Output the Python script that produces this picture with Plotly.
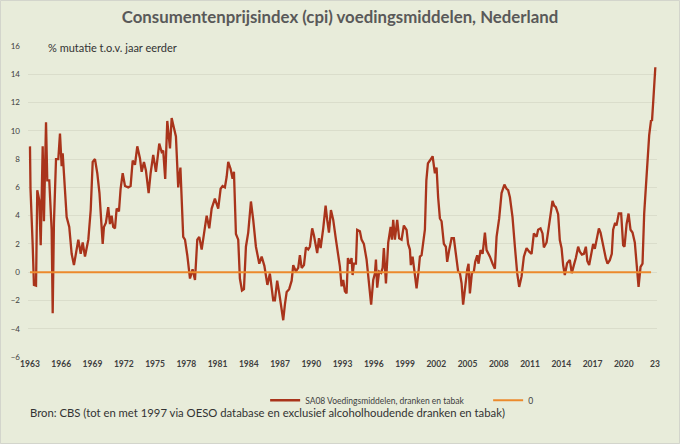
import plotly.graph_objects as go

# ---- data ----
years = [
    1963.00, 1963.05, 1963.26, 1963.38, 1963.58, 1963.70, 1963.89, 1964.03, 1964.22, 1964.34,
    1964.54, 1964.66, 1964.85, 1965.08, 1965.18, 1965.30, 1965.50, 1965.72, 1965.88, 1966.04,
    1966.14, 1966.36, 1966.52, 1966.77, 1967.00, 1967.22, 1967.64, 1967.87, 1968.06, 1968.28,
    1968.60, 1968.83, 1969.02, 1969.24, 1969.46, 1969.67, 1969.98, 1970.10, 1970.29, 1970.51,
    1970.68, 1970.84, 1970.99, 1971.16, 1971.32, 1971.54, 1971.70, 1971.90, 1972.12, 1972.43,
    1972.66, 1972.86, 1973.08, 1973.30, 1973.56, 1973.72, 1973.94, 1974.13, 1974.39, 1974.58,
    1974.83, 1975.09, 1975.41, 1975.64, 1975.79, 1975.98, 1976.18, 1976.44, 1976.60, 1976.82,
    1977.01, 1977.23, 1977.44, 1977.71, 1977.88, 1978.10, 1978.36, 1978.61, 1978.84, 1979.06,
    1979.25, 1979.48, 1979.70, 1979.96, 1980.21, 1980.44, 1980.75, 1981.07, 1981.30, 1981.49,
    1981.71, 1981.88, 1982.03, 1982.26, 1982.45, 1982.58, 1982.77, 1982.99, 1983.15, 1983.35,
    1983.54, 1983.73, 1983.95, 1984.21, 1984.43, 1984.69, 1985.01, 1985.24, 1985.50, 1985.79,
    1986.03, 1986.35, 1986.51, 1986.73, 1986.93, 1987.16, 1987.31, 1987.47, 1987.64, 1987.88,
    1988.12, 1988.27, 1988.53, 1988.75, 1988.91, 1989.08, 1989.30, 1989.49, 1989.71, 1989.87,
    1990.09, 1990.26, 1990.45, 1990.57, 1990.74, 1990.90, 1991.15, 1991.38, 1991.53, 1991.70,
    1991.89, 1992.11, 1992.37, 1992.59, 1992.75, 1992.91, 1993.07, 1993.23, 1993.39, 1993.52,
    1993.71, 1993.87, 1993.97, 1994.09, 1994.29, 1994.41, 1994.67, 1994.83, 1995.05, 1995.31,
    1995.56, 1995.75, 1995.95, 1996.11, 1996.21, 1996.33, 1996.52, 1996.71, 1996.85, 1996.97,
    1997.17, 1997.39, 1997.62, 1997.74, 1997.87, 1998.03, 1998.25, 1998.44, 1998.67, 1998.89,
    1999.15, 1999.30, 1999.47, 1999.56, 1999.73, 1999.95, 2000.11, 2000.30, 2000.43, 2000.59,
    2000.75, 2000.91, 2001.05, 2001.20, 2001.39, 2001.48, 2001.65, 2001.87, 2002.03, 2002.18,
    2002.35, 2002.51, 2002.73, 2002.92, 2003.05, 2003.24, 2003.47, 2003.69, 2003.88, 2004.10,
    2004.27, 2004.43, 2004.58, 2004.78, 2004.97, 2005.10, 2005.23, 2005.42, 2005.61, 2005.74,
    2005.93, 2006.06, 2006.25, 2006.45, 2006.67, 2006.83, 2007.15, 2007.41, 2007.63, 2007.79,
    2008.04, 2008.27, 2008.42, 2008.54, 2008.75, 2008.90, 2009.07, 2009.32, 2009.55, 2009.77,
    2009.96, 2010.19, 2010.41, 2010.67, 2010.92, 2011.15, 2011.37, 2011.63, 2011.78, 2012.01,
    2012.20, 2012.33, 2012.59, 2012.84, 2012.97, 2013.16, 2013.32, 2013.48, 2013.70, 2013.86,
    2014.03, 2014.18, 2014.34, 2014.56, 2014.82, 2015.01, 2015.21, 2015.40, 2015.62, 2015.78,
    2015.98, 2016.17, 2016.36, 2016.50, 2016.68, 2016.91, 2017.06, 2017.22, 2017.39, 2017.61,
    2017.77, 2017.96, 2018.09, 2018.28, 2018.44, 2018.66, 2018.85, 2018.98, 2019.17, 2019.30,
    2019.52, 2019.75, 2019.94, 2020.07, 2020.27, 2020.46, 2020.65, 2020.84, 2021.06, 2021.22,
    2021.42, 2021.61, 2021.80, 2021.96, 2022.12, 2022.28, 2022.44, 2022.62, 2022.71, 2022.84,
    2023.03,
]
cpi_food = [
    8.9, 5.9, 1.9, -0.9, -0.95, 5.8, 5.1, 1.9, 8.9, 3.6,
    10.6, 6.5, 6.5, 3.0, -2.9, 3.5, 8.0, 8.0, 9.8, 7.5,
    8.4, 6.0, 3.9, 3.2, 1.3, 0.5, 2.3, 1.3, 2.1, 1.1,
    2.3, 4.4, 7.8, 8.0, 7.0, 5.6, 2.0, 3.2, 3.5, 4.6,
    3.4, 4.0, 3.2, 3.1, 4.5, 4.3, 5.9, 7.0, 6.1, 6.0,
    6.1, 7.9, 7.6, 8.9, 8.05, 7.1, 7.8, 7.2, 5.6, 7.0,
    8.3, 7.1, 9.1, 8.5, 8.6, 6.6, 10.7, 8.75, 10.9, 10.2,
    9.6, 6.0, 7.4, 2.5, 2.3, 1.2, -0.45, 0.2, -0.55, 2.3,
    2.5, 1.6, 2.7, 4.0, 3.1, 4.5, 5.2, 4.5, 5.9, 6.1,
    6.0, 6.75, 7.8, 7.3, 6.6, 7.1, 2.7, 2.3, -0.45, -1.3,
    -1.2, 1.8, 2.8, 5.0, 3.7, 1.8, 0.6, 1.1, 0.45, -0.9,
    -0.1, -2.0, -2.0, -0.6, -1.5, -2.7, -3.4, -2.3, -1.4, -1.2,
    -0.6, 0.5, 0.05, 0.3, 1.2, 0.3, 0.5, 1.75, 1.6, 1.8,
    3.1, 2.6, 1.7, 1.35, 2.4, 1.7, 3.1, 4.7, 3.7, 2.8,
    4.4, 3.7, 2.3, 1.1, 0.4, -1.0, -0.55, -1.35, -1.5, 1.0,
    0.6, 1.0, -0.2, 0.6, 0.6, 3.0, 2.9, 2.3, 2.0, 0.9,
    -1.0, -2.3, -0.55, -0.1, 0.9, -1.1, 0.05, -0.05, 0.3, 1.7,
    -0.8, 2.1, 3.2, 2.3, 3.7, 2.3, 3.7, 2.4, 2.3, 3.3,
    3.0, 2.0, 1.6, 0.5, 1.1, -0.1, -1.15, 0.05, 1.1, 1.2,
    2.3, 3.0, 6.5, 7.7, 7.9, 8.0, 8.2, 7.0, 7.4, 5.3,
    3.8, 3.6, 2.0, 1.8, 0.73, 1.56, 2.4, 2.4, 1.1, 0.05,
    -0.07, -0.78, -2.3, -0.78, 0.17, 0.6, -1.5, -0.07, 0.05, 0.73,
    1.2, 0.6, 1.56, 1.3, 2.8, 1.56, 1.1, 0.6, 0.25, 2.5,
    3.8, 5.6, 6.0, 6.2, 5.9, 5.8, 5.3, 3.9, 1.8, -0.07,
    -1.04, -0.3, 1.1, 1.7, 1.45, 1.3, 2.74, 2.5, 3.0, 3.1,
    2.74, 1.75, 2.1, 3.45, 4.4, 5.05, 4.7, 4.6, 4.1, 2.27,
    1.7, 0.5, -0.2, 0.63, 0.87, -0.07, 0.5, 1.0, 1.8, 1.45,
    1.25, 1.3, 1.8, 0.8, 0.5, 1.4, 2.0, 1.65, 2.27, 3.1,
    2.8, 2.1, 1.56, 0.97, 0.6, 0.85, 1.3, 3.0, 3.5, 3.3,
    4.15, 4.15, 1.9, 1.8, 3.4, 4.15, 3.0, 2.8, 2.1, 0.6,
    -1.04, 0.37, 0.6, 4.15, 5.8, 7.7, 9.7, 10.76, 10.7, 12.2,
    14.5,
]
zero_line = [0.0 for _ in years]

tick_years = list(range(1963, 2024, 3))
tick_labels = [str(y) for y in range(1963, 2021, 3)] + ["23"]
y_ticks = list(range(-6, 17, 2))

series_name = "SA08 Voedingsmiddelen, dranken en tabak"
zero_name = "0"
title_text = "Consumentenprijsindex (cpi) voedingsmiddelen, Nederland"
unit_text = "% mutatie t.o.v. jaar eerder"
source_text = "Bron: CBS (tot en met 1997 via OESO database en exclusief alcoholhoudende dranken en tabak)"

BG = "#E8ECDA"
FONT = "Lato, 'Open Sans', sans-serif"
W, H = 680, 444
ML, MR, MT, MB = 28, 23, 46, 87
PW, PH = W - ML - MR, H - MT - MB

fig = go.Figure()
fig.add_trace(go.Scatter(
    x=years, y=cpi_food, mode="lines", name=series_name,
    line=dict(color="#A9341B", width=2.3),
))
fig.add_trace(go.Scatter(
    x=years[:-3], y=zero_line[:-3], mode="lines", name=zero_name,
    line=dict(color="#EC8A2C", width=2),
))

fig.update_layout(
    width=W, height=H,
    paper_bgcolor=BG, plot_bgcolor=BG,
    margin=dict(l=ML, r=MR, t=MT, b=MB, autoexpand=False),
    font=dict(family=FONT, color="#404040", size=9),
    title=dict(
        text=title_text, x=0.5, xanchor="center", y=1 - 17 / H, yanchor="middle",
        font=dict(family=FONT, size=16.8, color="#595959", weight="bold"),
    ),
    showlegend=True,
    legend=dict(
        orientation="h", x=0.377, xanchor="left", y=-0.139, yanchor="middle",
        font=dict(size=8.5, color="#404040"), bgcolor="rgba(0,0,0,0)",
        itemwidth=30, entrywidth=178, entrywidthmode="pixels",
    ),
    xaxis=dict(
        range=[1962.81, 2023.19], tickmode="array", tickvals=tick_years, ticktext=tick_labels,
        showgrid=False, zeroline=False, showline=False, ticks="",
        tickfont=dict(size=8.5, color="#404040", weight="bold"),
    ),
    yaxis=dict(
        range=[-6, 16], tickmode="array", tickvals=y_ticks,
        showgrid=True, gridcolor="#DADDCB", gridwidth=1, zeroline=False, showline=False, ticks="",
        tickfont=dict(size=8, color="#404040"), ticklabelstandoff=7,
    ),
    shapes=[
        dict(type="rect", xref="paper", yref="paper", layer="above",
             x0=(-ML + 0.5) / PW, x1=1 + (MR - 0.5) / PW,
             y0=(-MB + 0.5) / PH, y1=1 + (MT - 0.5) / PH,
             line=dict(color="#D3D5CC", width=1), fillcolor="rgba(0,0,0,0)"),
    ],
    annotations=[
        dict(text=unit_text, xref="paper", yref="paper", x=0.0286, y=0.9936,
             xanchor="left", yanchor="middle", showarrow=False,
             font=dict(size=11, color="#333333")),
        dict(text=source_text, xref="paper", yref="paper", x=0.0, y=-0.178,
             xanchor="left", yanchor="middle", showarrow=False,
             font=dict(size=11.3, color="#333333")),
    ],
)

fig.write_html("out.html", config={"displayModeBar": False},
               post_script="document.body.style.margin='0px';")
